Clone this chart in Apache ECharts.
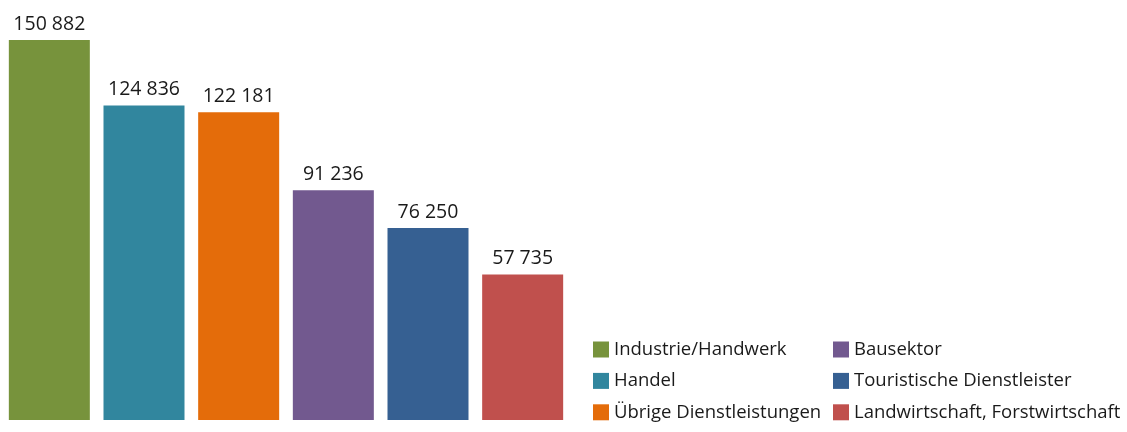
<!DOCTYPE html>
<html>
<head>
<meta charset="utf-8">
<script src="https://cdn.jsdelivr.net/npm/echarts@6/dist/echarts.min.js"></script>
<style>
  html, body { margin: 0; padding: 0; background: #fff; }
  #chart { width: 1127px; height: 432px; }
</style>
</head>
<body>
<div id="chart"></div>
<script>
// Beschäftigte nach Branche
const categories = [
  'Industrie/Handwerk',
  'Handel',
  'Übrige Dienstleistungen',
  'Bausektor',
  'Touristische Dienstleister',
  'Landwirtschaft, Forstwirtschaft'
];
const values = [150882, 124836, 122181, 91236, 76250, 57735];
const colors = ['#77933C', '#31869E', '#E46C0A', '#72598F', '#366092', '#C0504D'];

const fontFamily = 'Open Sans';

function formatThousands(v) {
  return String(v).replace(/\B(?=(\d{3})+(?!\d))/g, ' ');
}

// one series per branch so each gets its own legend entry; barGap -100% keeps them centred
const series = categories.map(function (name, i) {
  return {
    name: name,
    type: 'bar',
    barWidth: 81,
    barGap: '-100%',
    itemStyle: { color: colors[i] },
    label: {
      show: true,
      position: 'top',
      distance: 6,
      color: '#1a1a1a',
      fontFamily: fontFamily,
      fontSize: 19.5,
      formatter: function (p) { return formatThousands(p.value); }
    },
    data: values.map(function (v, j) { return j === i ? v : null; })
  };
});

const legendText = {
  color: '#1a1a1a',
  fontFamily: fontFamily,
  fontSize: 18.5,
  lineHeight: 16,
  height: 16
};

function legendColumn(names, left) {
  return {
    data: names,
    orient: 'vertical',
    left: left,
    top: 340,
    padding: 0,
    icon: 'rect',
    itemWidth: 16,
    itemHeight: 16,
    itemGap: 12.4,
    itemTextGap: 6,
    textStyle: legendText,
    selectedMode: false
  };
}

const chart = echarts.init(document.getElementById('chart'), null, { renderer: 'canvas' });
chart.setOption({
  animation: false,
  grid: { left: 2, right: 557, top: 40, bottom: 12 },
  xAxis: {
    type: 'category',
    data: categories,
    show: false
  },
  yAxis: {
    type: 'value',
    min: 0,
    max: 'dataMax',
    show: false
  },
  legend: [
    legendColumn(categories.slice(0, 3), 593),
    legendColumn(categories.slice(3), 833)
  ],
  series: series
});
</script>
</body>
</html>
